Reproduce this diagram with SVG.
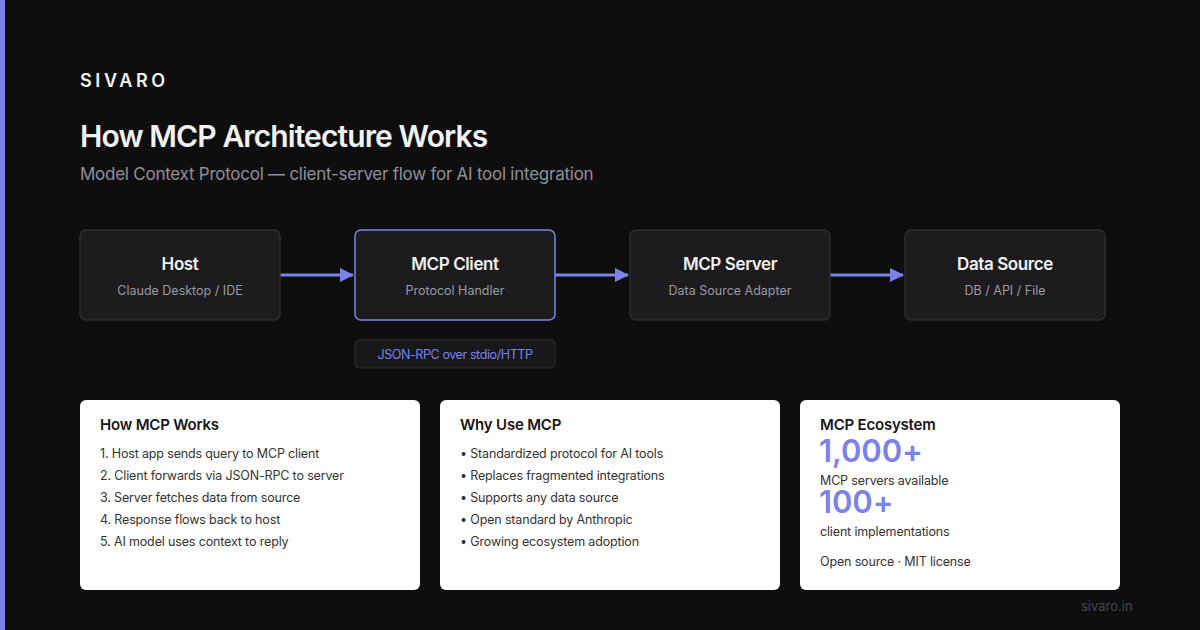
<svg xmlns="http://www.w3.org/2000/svg" width="1200" height="630" viewBox="0 0 1200 630">
<defs>
<style>
.t{font-family:Inter,"Liberation Sans",sans-serif}
.node rect{fill:#1c1c1f;stroke:#2c2c30;stroke-width:1.5}
.nt{font-size:17px;font-weight:600;fill:#f2f2f2;text-anchor:middle;letter-spacing:-0.4px}
.ns{font-size:12.5px;fill:#9a9aa2;text-anchor:middle}
.card{fill:#ffffff}
.ct{font-size:15px;font-weight:600;fill:#161616;letter-spacing:-0.2px}
.li{font-size:12.5px;fill:#333333;letter-spacing:-0.15px}
.big{font-size:31px;font-weight:600;fill:#7b83eb;letter-spacing:-0.1px}
.conn{stroke:#7b83eb;stroke-width:3;fill:none}
</style>
<marker id="ah2" markerWidth="14" markerHeight="14" refX="13" refY="7" orient="auto" markerUnits="userSpaceOnUse" viewBox="0 0 14 14">
<path d="M0,0 L14,7 L0,14 z" fill="#7b83eb"/>
</marker>
</defs>
<rect width="1200" height="630" fill="#0e0e0f"/>
<rect x="0" y="0" width="5" height="630" fill="#7b83eb"/>
<text class="t" x="80" y="87" font-size="18" font-weight="600" fill="#f2f2f2" letter-spacing="3.6">SIVARO</text>
<text class="t" x="80" y="147" font-size="30" font-weight="600" fill="#f2f2f2" letter-spacing="-0.9">How MCP Architecture Works</text>
<text class="t" x="80" y="180" font-size="17" fill="#8e9199" letter-spacing="-0.25">Model Context Protocol — client-server flow for AI tool integration</text>

<g id="connectors">
<line class="conn" x1="280" y1="275" x2="353" y2="275" marker-end="url(#ah2)"/>
<line class="conn" x1="555" y1="275" x2="628" y2="275" marker-end="url(#ah2)"/>
<line class="conn" x1="830" y1="275" x2="903" y2="275" marker-end="url(#ah2)"/>
</g>

<g id="host" class="node">
<rect x="80" y="230" width="200" height="90" rx="6"/>
<text class="t nt" x="180" y="270">Host</text>
<text class="t ns" x="180" y="295">Claude Desktop / IDE</text>
</g>
<g id="mcp-client" class="node">
<rect x="355" y="230" width="200" height="90" rx="6" style="stroke:#7b83eb"/>
<text class="t nt" x="455" y="270">MCP Client</text>
<text class="t ns" x="455" y="295">Protocol Handler</text>
</g>
<g id="mcp-server" class="node">
<rect x="630" y="230" width="200" height="90" rx="6"/>
<text class="t nt" x="730" y="270">MCP Server</text>
<text class="t ns" x="730" y="295">Data Source Adapter</text>
</g>
<g id="data-source" class="node">
<rect x="905" y="230" width="200" height="90" rx="6"/>
<text class="t nt" x="1005" y="270">Data Source</text>
<text class="t ns" x="1005" y="295">DB / API / File</text>
</g>
<g id="transport">
<rect x="355" y="340" width="200" height="28" rx="4" fill="#18181b" stroke="#2c2c30" stroke-width="1"/>
<text class="t" x="455" y="359" font-size="12.5" fill="#7b83eb" text-anchor="middle" letter-spacing="-0.4">JSON-RPC over stdio/HTTP</text>
</g>

<g id="card-how">
<rect class="card" x="80" y="400" width="340" height="190" rx="6"/>
<text class="t ct" x="100" y="430">How MCP Works</text>
<text class="t li" x="100" y="458">1. Host app sends query to MCP client</text>
<text class="t li" x="100" y="480">2. Client forwards via JSON-RPC to server</text>
<text class="t li" x="100" y="502">3. Server fetches data from source</text>
<text class="t li" x="100" y="524">4. Response flows back to host</text>
<text class="t li" x="100" y="546">5. AI model uses context to reply</text>
</g>
<g id="card-why">
<rect class="card" x="440" y="400" width="340" height="190" rx="6"/>
<text class="t ct" x="460" y="430">Why Use MCP</text>
<text class="t li" x="460" y="458">• Standardized protocol for AI tools</text>
<text class="t li" x="460" y="480">• Replaces fragmented integrations</text>
<text class="t li" x="460" y="502">• Supports any data source</text>
<text class="t li" x="460" y="524">• Open standard by Anthropic</text>
<text class="t li" x="460" y="546">• Growing ecosystem adoption</text>
</g>
<g id="card-eco">
<rect class="card" x="800" y="400" width="320" height="190" rx="6"/>
<text class="t ct" x="820" y="430">MCP Ecosystem</text>
<text class="t big" x="819" y="462">1,000+</text>
<text class="t li" x="820" y="485">MCP servers available</text>
<text class="t big" x="819" y="513">100+</text>
<text class="t li" x="820" y="536">client implementations</text>
<text class="t li" x="820" y="566">Open source · MIT license</text>
</g>
<text class="t" x="1081" y="611" font-size="13" fill="#45454a">sivaro.in</text>
</svg>
